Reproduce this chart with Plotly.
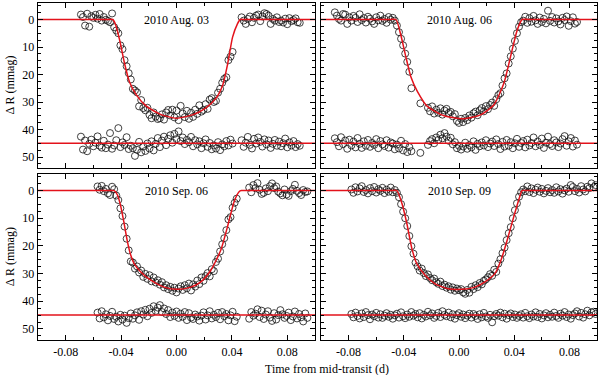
import plotly.graph_objects as go

# ---------------- 2010 Aug. 03 ----------------
aug03_time = [
    -0.0690, -0.0675, -0.0660, -0.0645, -0.0630, -0.0615, -0.0600, -0.0585, -0.0570, -0.0555,
    -0.0540, -0.0525, -0.0510, -0.0495, -0.0480, -0.0465,
    -0.0450, -0.0435, -0.0420, -0.0405, -0.0390, -0.0375, -0.0360, -0.0345, -0.0330, -0.0315,
    -0.0300, -0.0285, -0.0270, -0.0255, -0.0240, -0.0225, -0.0210, -0.0195, -0.0180, -0.0165,
    -0.0150, -0.0135, -0.0120, -0.0105, -0.0090, -0.0075, -0.0060, -0.0045, -0.0030, -0.0015,
    0.0000, 0.0015, 0.0030, 0.0045, 0.0060, 0.0075, 0.0090, 0.0105, 0.0120, 0.0135,
    0.0150, 0.0165, 0.0180, 0.0195, 0.0210, 0.0225, 0.0240, 0.0255, 0.0270, 0.0285,
    0.0300, 0.0315, 0.0330, 0.0345, 0.0360, 0.0375, 0.0390, 0.0405,
    0.0470, 0.0485, 0.0500, 0.0515, 0.0530, 0.0545, 0.0560, 0.0575, 0.0590, 0.0605,
    0.0620, 0.0635, 0.0650, 0.0665, 0.0680, 0.0695, 0.0710, 0.0725, 0.0740, 0.0755,
    0.0770, 0.0785, 0.0800, 0.0815, 0.0830, 0.0845, 0.0860, 0.0875, 0.0890,
]
aug03_dmag = [
    -1.8, -0.9, 2.2, -2.1, 2.6, -1.2, -0.6, -1.7, -0.3, -2.0, 0.4, -0.9, 0.1, 0.5, 1.0, -2.2,
    2.8, 4.0, 5.0, 9.4, 10.8, 14.8, 17.0, 19.5, 21.8, 25.2,
    25.8, 26.5, 31.6, 29.3, 32.2, 33.0, 32.1, 34.7, 35.9, 33.8,
    35.3, 36.2, 35.9, 34.5, 36.4, 33.8, 32.9, 34.9, 32.8, 35.6,
    33.1, 36.6, 31.4, 34.2, 35.5, 33.2, 36.1, 33.9, 35.4, 32.8,
    34.3, 31.2, 33.5, 32.9, 30.8, 32.5, 29.1, 28.6, 30.0, 29.6,
    26.6, 25.2, 23.0, 21.6, 21.0, 14.8, 13.5, 11.8,
    -0.8, 0.4, 1.6, -0.2, -1.1, 1.0, -0.6, -1.4, -1.8, 0.6,
    -1.1, -2.3, -2.0, -1.4, 1.6, -0.2, 0.4, -0.8, 0.9, 0.4,
    1.1, -0.3, 1.7, -0.5, 0.6, 0.2, -0.4, 1.0, 1.2,
]
aug03_resid = [
    42.6, 47.3, 44.0, 47.9, 45.2, 43.7, 46.1, 44.8, 42.5, 45.9, 46.6, 44.1, 46.8, 45.5, 41.3, 47.0,
    45.8, 43.9, 39.5, 46.4, 44.7, 45.6, 42.8, 47.1, 45.9,
    46.8, 49.6, 47.4, 44.5, 48.3, 46.2, 47.8, 45.1, 46.9,
    44.3, 47.6, 45.2, 43.1, 46.4, 44.0, 42.6, 45.7, 43.4,
    42.1, 44.8, 41.6, 43.5, 40.7, 44.2, 42.9, 45.3, 43.8,
    44.6, 42.7, 46.1, 43.9, 45.4, 44.3, 46.8, 45.0, 43.6,
    46.3, 44.9, 47.2, 45.8, 46.9, 44.6, 47.5, 45.4, 46.1,
    44.2, 45.8, 43.7, 45.1,
    43.9, 46.3, 44.8, 42.7, 45.6, 46.9, 43.4, 45.1, 42.9, 44.5,
    46.2, 43.6, 45.4, 44.0, 46.7, 45.2, 43.8, 45.9, 44.4, 46.1,
    45.0, 43.3, 46.5, 44.7, 45.8, 44.2, 46.4, 45.3, 45.9,
]
aug03_model_time = [-0.1, -0.05, -0.046, -0.044, -0.041, -0.0375, -0.034, -0.029, -0.022, -0.012, 0.0,
                    0.012, 0.021, 0.0286, 0.0334, 0.037, 0.0405, 0.044, 0.046, 0.05, 0.1]
aug03_model = [0, 0, 0, 1.8, 7.6, 16.0, 22.6, 27.4, 31.4, 34.4, 35.9,
               34.6, 32.2, 28.6, 23.8, 16.0, 6.4, 1.6, 0, 0, 0]

# ---------------- 2010 Aug. 06 ----------------
aug06_time = [
    -0.0900, -0.0885, -0.0870, -0.0855, -0.0840, -0.0825, -0.0810, -0.0795, -0.0780, -0.0765,
    -0.0750, -0.0735, -0.0720, -0.0705, -0.0690, -0.0675, -0.0660, -0.0645, -0.0630, -0.0615,
    -0.0600, -0.0585, -0.0570, -0.0555, -0.0540, -0.0525, -0.0510, -0.0495, -0.0480, -0.0465,
    -0.0450, -0.0435, -0.0420, -0.0405, -0.0390, -0.0375, -0.0360, -0.0345,
    -0.0280,
    -0.0225, -0.0210, -0.0195, -0.0180, -0.0165, -0.0150, -0.0135, -0.0120, -0.0105, -0.0090,
    -0.0075, -0.0060, -0.0045, -0.0030, -0.0015, 0.0000, 0.0015, 0.0030, 0.0045, 0.0060,
    0.0075, 0.0090, 0.0105, 0.0120, 0.0135, 0.0150, 0.0165, 0.0180, 0.0195, 0.0210,
    0.0225, 0.0240, 0.0255, 0.0270,
    0.0285, 0.0300, 0.0315, 0.0330, 0.0345, 0.0360, 0.0375, 0.0390, 0.0405, 0.0420, 0.0435, 0.0450,
    0.0465, 0.0480, 0.0495, 0.0510, 0.0525, 0.0540, 0.0555, 0.0570, 0.0585, 0.0600,
    0.0615, 0.0630, 0.0645, 0.0660, 0.0675, 0.0690, 0.0705, 0.0720, 0.0735, 0.0750,
    0.0765, 0.0780, 0.0795, 0.0810, 0.0825, 0.0840, 0.0855,
]
aug06_dmag = [
    -2.6, -1.4, -0.2, 0.4, -2.0, -1.8, 1.6, -0.8, 0.4, -1.3,
    -0.6, 0.9, -1.9, 0.2, -0.5, 1.1, -1.0, -0.3, 0.7, 1.6,
    -0.8, 0.3, -1.4, 0.5, -0.2, 1.2, -0.9, 0.1, -0.6, 0.4,
    2.2, 4.6, 7.0, 9.4, 12.4, 15.4, 19.0, 25.0,
    30.5,
    32.1, 33.4, 31.6, 34.2, 32.8, 33.9, 32.3, 34.6, 33.1, 32.5,
    34.0, 33.6, 35.2, 34.4, 36.9, 37.6, 36.1, 37.3, 35.8, 36.6,
    34.9, 35.7, 34.1, 33.5, 34.8, 33.0, 32.2, 33.4, 31.5, 32.6,
    31.1, 30.2, 31.4, 29.0,
    27.5, 26.8, 24.0, 21.4, 19.6, 16.0, 13.4, 10.6, 7.8, 5.0, 2.6, 1.0,
    0.4, -1.0, 1.2, -0.5, 0.8, -1.3, 0.3, 1.6, -0.7, 0.9,
    -0.2, 1.4, -3.2, 0.5, -0.9, 1.1, -0.4, 0.7, 1.8, -0.6,
    0.2, -1.1, 2.3, 0.6, -0.8, 1.5, 0.9,
]
aug06_resid = [
    43.2, 44.6, 46.1, 42.8, 45.3, 44.0, 47.0, 43.7, 45.8, 44.4,
    46.5, 43.1, 45.2, 46.7, 44.3, 45.9, 43.8, 46.3, 44.9, 45.6,
    43.5, 46.8, 44.2, 45.4, 46.0, 43.9, 46.6, 44.7, 45.1, 47.2,
    45.5, 46.9, 44.1, 47.6, 45.3, 48.2, 46.4, 47.9,
    48.5,
    45.6, 44.2, 43.5, 45.0, 42.9, 43.8, 41.9, 43.2, 41.3, 42.6,
    44.1, 43.0, 45.4, 44.6, 46.8, 45.9, 47.3, 46.2, 44.8, 47.0,
    45.7, 46.5, 44.3, 47.4, 45.2, 46.1, 44.7, 45.8, 43.9, 46.4,
    45.1, 44.4, 46.0, 43.6,
    45.3, 47.1, 44.5, 46.2, 43.8, 45.9, 44.6, 46.8, 45.0, 43.4, 46.3, 44.9,
    44.2, 46.5, 43.7, 45.8, 44.9, 42.9, 46.1, 44.4, 45.6, 43.3,
    46.7, 44.8, 42.6, 45.3, 46.0, 43.9, 44.7, 46.4, 45.1, 43.5,
    42.4, 45.9, 44.3, 43.1, 46.2, 44.0, 45.5,
]
aug06_model_time = [-0.1, -0.05, -0.0457, -0.0421, -0.0385, -0.0349, -0.0301, -0.0229, -0.0108, 0.0036,
                    0.0156, 0.0253, 0.0325, 0.0373, 0.0421, 0.0457, 0.05, 0.1]
aug06_model = [0, 0, 0, 5.8, 13.6, 20.8, 26.2, 31.6, 35.0, 36.1,
               34.7, 31.0, 23.2, 13.6, 4.0, 0, 0, 0]

# ---------------- 2010 Sep. 06 ----------------
sep06_time = [
    -0.0570, -0.0555, -0.0540, -0.0525, -0.0510, -0.0495, -0.0480, -0.0465, -0.0450,
    -0.0435, -0.0420, -0.0405, -0.0390, -0.0375, -0.0360, -0.0345, -0.0330,
    -0.0315, -0.0300, -0.0285, -0.0270, -0.0255, -0.0240, -0.0225, -0.0210, -0.0195, -0.0180,
    -0.0165, -0.0150, -0.0135, -0.0120, -0.0105, -0.0090, -0.0075, -0.0060, -0.0045, -0.0030,
    -0.0015, 0.0000, 0.0015, 0.0030, 0.0045, 0.0060, 0.0075, 0.0090, 0.0105, 0.0120,
    0.0135, 0.0150, 0.0165, 0.0180, 0.0195, 0.0210, 0.0225, 0.0240, 0.0255, 0.0270,
    0.0285, 0.0300, 0.0315, 0.0330, 0.0345, 0.0360, 0.0375, 0.0390, 0.0405, 0.0420, 0.0435,
    0.0525, 0.0540, 0.0555, 0.0570, 0.0585, 0.0600, 0.0615, 0.0630, 0.0645, 0.0660,
    0.0675, 0.0690, 0.0705, 0.0720, 0.0735, 0.0750, 0.0765, 0.0780, 0.0795, 0.0810,
    0.0825, 0.0840, 0.0855, 0.0870, 0.0885, 0.0900, 0.0915, 0.0930, 0.0945,
]
sep06_dmag = [
    -1.5, -0.3, -1.7, 0.2, -0.6, 1.0, 1.6, -1.4, -0.5,
    1.8, 3.4, 6.4, 9.2, 13.0, 17.4, 21.6, 25.6,
    26.0, 28.2, 27.4, 29.6, 28.9, 31.2, 30.1, 31.9, 30.6, 32.8,
    31.4, 33.2, 32.4, 34.0, 33.1, 35.0, 34.2, 35.6, 34.8, 36.2,
    35.1, 36.8, 35.4, 34.6, 35.9, 34.2, 35.3, 33.6, 36.1, 33.9,
    34.7, 32.5, 33.8, 31.4, 32.6, 30.9, 29.8, 31.0, 28.4, 29.1,
    25.8, 24.6, 22.0, 19.4, 17.2, 14.3, 10.4, 9.6, 6.2, 4.4, 2.9,
    -1.1, 0.6, -2.0, -0.9, -2.7, -0.3, 1.2, 0.8, -0.8, 0.2,
    -1.6, -2.6, -0.9, -1.5, 0.4, 1.0, 1.7, -0.4, 1.4, 1.9,
    0.2, -0.6, -2.1, 0.1, 0.9, 1.6, -0.2, 0.5, 0.3,
]
sep06_resid = [
    44.1, 46.2, 43.6, 45.8, 44.7, 46.9, 45.3, 43.8, 46.4,
    45.6, 47.3, 44.9, 46.6, 45.2, 47.8, 46.1, 44.4,
    46.3, 45.1, 44.0, 46.7, 43.6, 44.8, 43.1, 45.4, 42.7, 44.2,
    41.8, 43.5, 42.3, 41.4, 43.9, 42.6, 44.6, 43.2, 45.7, 44.1,
    45.3, 43.7, 46.0, 44.5, 45.6, 43.9, 46.8, 44.3, 45.9, 46.4,
    44.8, 45.5, 47.0, 45.2, 44.0, 46.6, 45.1, 43.6, 46.2, 44.9,
    45.7, 44.2, 46.5, 43.9, 45.4, 44.6, 46.9, 45.1, 43.8, 47.2, 45.6,
    46.3, 43.9, 45.2, 44.5, 42.9, 45.7, 43.4, 46.4, 44.8, 43.6,
    45.9, 47.1, 44.3, 46.6, 45.0, 43.2, 44.7, 46.0, 45.3, 44.1,
    46.8, 45.5, 43.7, 46.2, 44.6, 45.8, 47.3, 44.4, 46.0,
]
sep06_model_time = [-0.1, -0.05, -0.045, -0.0426, -0.0402, -0.0378, -0.0354, -0.033, -0.0306, -0.0258,
                    -0.0185, -0.0089, 0.0007, 0.0103, 0.0176, 0.0248, 0.032, 0.0368, 0.0416, 0.0452,
                    0.0469, 0.05, 0.1]
sep06_model = [0, 0, 0, 1.6, 5.8, 11.9, 18.5, 23.4, 26.4, 29.4,
               32.4, 34.9, 35.7, 34.9, 33.0, 28.8, 21.5, 13.1, 4.0, 0.4,
               0, 0, 0]

# ---------------- 2010 Sep. 09 ----------------
sep09_time = [
    -0.0780, -0.0765, -0.0750, -0.0735, -0.0720, -0.0705, -0.0690, -0.0675, -0.0660, -0.0645,
    -0.0630, -0.0615, -0.0600, -0.0585, -0.0570, -0.0555, -0.0540, -0.0525, -0.0510, -0.0495,
    -0.0480, -0.0465,
    -0.0450, -0.0435, -0.0420, -0.0405, -0.0390, -0.0375, -0.0360, -0.0345, -0.0330,
    -0.0315, -0.0300, -0.0285, -0.0270, -0.0255, -0.0240, -0.0225, -0.0210, -0.0195, -0.0180,
    -0.0165, -0.0150, -0.0135, -0.0120, -0.0105, -0.0090, -0.0075, -0.0060, -0.0045, -0.0030,
    -0.0015, 0.0000, 0.0015, 0.0030, 0.0045, 0.0060, 0.0075, 0.0090, 0.0105, 0.0120,
    0.0135, 0.0150, 0.0165, 0.0180, 0.0195, 0.0210, 0.0225, 0.0240, 0.0255, 0.0270,
    0.0285, 0.0300, 0.0315, 0.0330, 0.0345, 0.0360, 0.0375, 0.0390, 0.0405, 0.0420, 0.0435,
    0.0450, 0.0465, 0.0480, 0.0495, 0.0510, 0.0525, 0.0540, 0.0555, 0.0570, 0.0585,
    0.0600, 0.0615, 0.0630, 0.0645, 0.0660, 0.0675, 0.0690, 0.0705, 0.0720, 0.0735,
    0.0750, 0.0765, 0.0780, 0.0795, 0.0810, 0.0825, 0.0840, 0.0855, 0.0870, 0.0885,
    0.0900, 0.0915, 0.0930, 0.0945, 0.0960, 0.0975, 0.0990,
]
sep09_dmag = [
    -0.4, 0.8, -1.2, 0.3, -0.8, -1.6, 0.5, -0.2, 1.0, -0.9,
    0.2, -1.3, 0.7, -0.5, 0.1, -1.0, 0.9, -0.3, 0.4, -1.1,
    0.6, -0.2,
    0.8, 2.4, 4.9, 7.6, 10.0, 12.8, 16.4, 20.1, 22.8,
    26.0, 27.4, 28.9, 28.2, 29.8, 30.9, 30.3, 31.6, 32.4, 31.8,
    33.1, 33.7, 32.9, 34.5, 34.0, 35.1, 34.6, 35.8, 35.0, 36.2,
    35.4, 36.0, 35.6, 36.8, 37.3, 35.9, 36.9, 34.8, 35.6, 34.2,
    34.9, 33.4, 33.9, 32.6, 32.1, 31.3, 30.2, 30.8, 28.6, 29.4,
    26.4, 24.8, 22.6, 20.6, 17.9, 15.4, 13.2, 10.0, 7.1, 4.6, 2.2,
    0.6, -0.4, 0.2, -1.5, 0.5, -0.8, 0.9, -0.3, -1.1, 0.4,
    -0.6, 1.0, 0.1, -0.9, 0.6, -0.2, 0.8, -1.2, 0.3, -0.5,
    1.1, -0.1, -0.7, 0.4, -2.0, -1.3, 0.2, -0.6, 0.7, -1.6,
    -0.4, 0.3, -1.4, -0.9, -2.6, -1.2, -2.0,
]
sep09_resid = [
    44.6, 45.8, 44.1, 45.3, 46.2, 44.4, 45.7, 43.9, 45.0, 46.5,
    44.8, 45.4, 44.2, 45.9, 44.7, 46.0, 45.2, 44.3, 45.6, 44.9,
    46.3, 45.1,
    44.5, 45.9, 44.0, 45.4, 46.1, 44.8, 45.6, 43.9, 45.2,
    44.6, 45.8, 44.3, 46.2, 44.9, 45.5, 43.8, 45.1, 44.4, 46.0,
    45.3, 44.2, 45.7, 43.6, 44.9, 45.4, 44.1, 45.8, 44.7, 46.3,
    45.0, 44.3, 45.6, 44.8, 46.1, 45.2, 44.5, 45.9, 44.6, 45.3,
    46.4, 44.7, 45.8, 44.2, 45.5, 46.0, 44.9, 47.6, 45.4, 44.6,
    45.2, 44.1, 45.8, 44.5, 46.3, 45.0, 44.4, 45.7, 44.8, 46.0, 45.3,
    44.7, 45.9, 44.2, 45.4, 46.1, 44.8, 45.5, 44.0, 45.7, 44.6,
    46.2, 45.1, 44.3, 45.8, 44.9, 45.6, 44.1, 45.3, 46.0, 44.5,
    45.2, 43.9, 45.7, 44.8, 46.3, 45.0, 44.4, 43.6, 45.5, 44.2,
    45.9, 44.7, 43.4, 45.1, 44.0, 43.8, 44.6,
]
sep09_model_time = [-0.1, -0.05, -0.045, -0.0414, -0.0378, -0.0342, -0.0306, -0.0245, -0.0173, -0.0077,
                    0.0019, 0.0116, 0.0188, 0.026, 0.0308, 0.0356, 0.0404, 0.044, 0.0457, 0.05, 0.1]
sep09_model = [0, 0, 0, 4.6, 11.9, 20.9, 26.4, 30.6, 33.7, 35.5,
               35.7, 34.9, 33.0, 30.0, 24.6, 16.7, 8.2, 2.2, 0, 0, 0]

resid_offset = 45
time_range = [-0.1, 0.1]
x_tickvals = [-0.08, -0.04, 0.0, 0.04, 0.08]
x_ticktext = ["-0.08", "-0.04", "0.00", "0.04", "0.08"]
y_tickvals = [0, 10, 20, 30, 40, 50]

panels = [
    ("2010 Aug. 03", aug03_time, aug03_dmag, aug03_resid, aug03_model_time, aug03_model),
    ("2010 Aug. 06", aug06_time, aug06_dmag, aug06_resid, aug06_model_time, aug06_model),
    ("2010 Sep. 06", sep06_time, sep06_dmag, sep06_resid, sep06_model_time, sep06_model),
    ("2010 Sep. 09", sep09_time, sep09_dmag, sep09_resid, sep09_model_time, sep09_model),
]

RED = "#e3121b"
FONT = '"Liberation Serif", "Times New Roman", Times, serif'

x_domains = [[0, 0.4955], [0.5063, 1], [0, 0.4955], [0.5063, 1]]
y_domains = [[0.5104, 1], [0.5104, 1], [0, 0.4926], [0, 0.4926]]

fig = go.Figure()
annotations = []
for i, (label, t, dm, res, mt, mm) in enumerate(panels):
    assert len(t) == len(dm) == len(res), label
    sfx = "" if i == 0 else str(i + 1)
    xa, ya = "x" + sfx, "y" + sfx
    circ = dict(symbol="circle-open", size=7, color="#111", line=dict(width=0.8))
    fig.add_trace(go.Scatter(x=t, y=dm, mode="markers", marker=circ, xaxis=xa, yaxis=ya))
    fig.add_trace(go.Scatter(x=t, y=res, mode="markers", marker=circ, xaxis=xa, yaxis=ya))
    fig.add_trace(go.Scatter(x=mt, y=mm, mode="lines", xaxis=xa, yaxis=ya,
                             line=dict(color=RED, width=1.5, shape="spline", smoothing=0.6)))
    fig.add_trace(go.Scatter(x=time_range, y=[resid_offset, resid_offset], mode="lines",
                             xaxis=xa, yaxis=ya, line=dict(color=RED, width=1.5)))

    bottom = i >= 2
    left = i % 2 == 0
    common = dict(showline=True, linecolor="black", linewidth=1.3, mirror="allticks",
                  ticks="inside", ticklen=5, tickwidth=1, tickcolor="black",
                  showgrid=False, zeroline=False, automargin=False,
                  tickfont=dict(family=FONT, size=12, color="black"))
    fig.layout["xaxis" + sfx] = dict(
        common, domain=x_domains[i], range=time_range, anchor=ya,
        tickvals=x_tickvals, ticktext=x_ticktext, showticklabels=bottom,
        minor=dict(ticks="inside", ticklen=3, tickcolor="black", dtick=0.02, tick0=0),
    )
    fig.layout["yaxis" + sfx] = dict(
        common, domain=y_domains[i], range=[54, -6], anchor=xa,
        tickvals=y_tickvals, showticklabels=left,
        minor=dict(ticks="inside", ticklen=3, tickcolor="black", dtick=2.5, tick0=0),
    )
    annotations.append(dict(text=label, x=0, y=0, xref=xa, yref=ya, showarrow=False,
                            xanchor="center", yanchor="middle",
                            font=dict(family=FONT, size=12, color="black")))

annotations.append(dict(text="Time from mid-transit (d)", x=0.517, y=-0.086, xref="paper", yref="paper",
                        showarrow=False, xanchor="center", yanchor="middle",
                        font=dict(family=FONT, size=12, color="black")))
for yc in [0.755, 0.246]:
    annotations.append(dict(text="Δ R (mmag)", x=-0.05, y=yc, xref="paper", yref="paper",
                            showarrow=False, textangle=-90, xanchor="center", yanchor="middle",
                            font=dict(family=FONT, size=12, color="black")))

fig.update_layout(
    width=600, height=375,
    margin=dict(l=38, r=3, t=3, b=35),
    showlegend=False,
    hovermode=False,
    plot_bgcolor="white", paper_bgcolor="white",
    font=dict(family=FONT, size=12, color="black"),
    annotations=annotations,
)

# the page's default body margin would shift the 600x375 figure off the window
fig.write_html("out.html", config={"displayModeBar": False, "staticPlot": True},
               post_script="document.body.style.margin='0';")
